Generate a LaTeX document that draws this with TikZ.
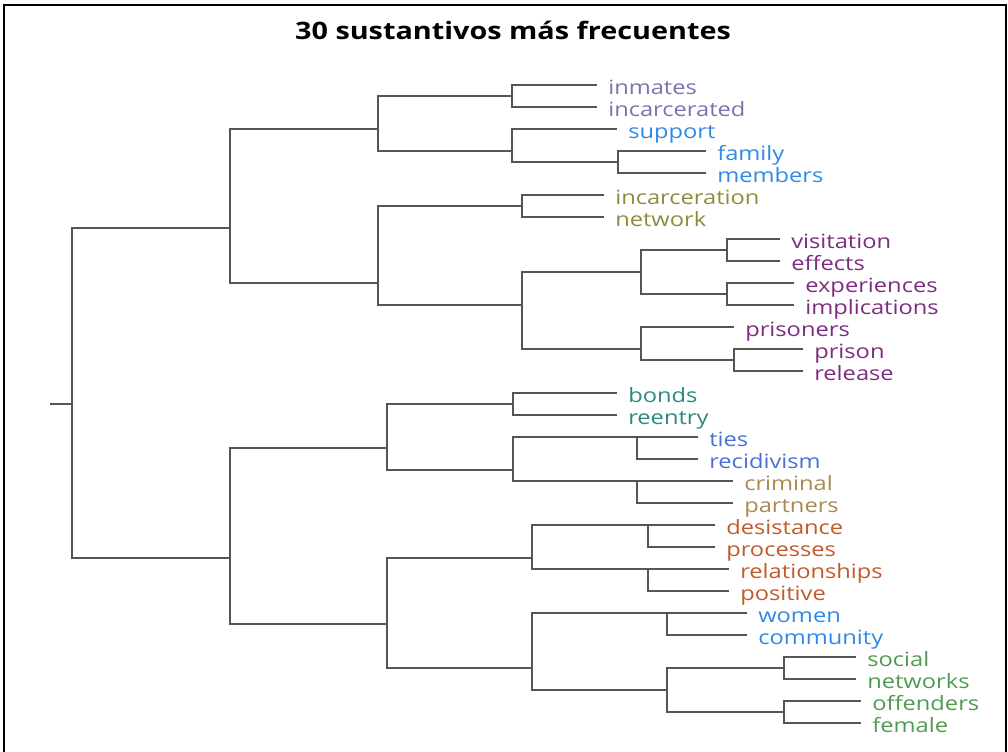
\documentclass[tikz,border=0pt]{standalone}
\usepackage{fontspec}
\usepackage{tikz}
\newfontfamily\dendrofont[FakeStretch=1.2]{Open Sans}
\definecolor{clav}{HTML}{7A74AC}
\definecolor{cblue}{HTML}{2E8AE6}
\definecolor{colive}{HTML}{8C8C3C}
\definecolor{cpurple}{HTML}{7E2C7E}
\definecolor{cteal}{HTML}{2A8A80}
\definecolor{croyal}{HTML}{4A70D8}
\definecolor{ctan}{HTML}{A88A50}
\definecolor{crust}{HTML}{C25A2A}
\definecolor{cgreen}{HTML}{4F9A50}
\definecolor{cbranch}{HTML}{555555}
\tikzset{
  branch/.style={draw=cbranch,line width=1pt},
  leaf/.style={anchor=base west,inner sep=0pt,font=\dendrofont\fontsize{14.8}{16}\selectfont,xshift=8.25pt,yshift=-7.4pt},
  frame/.style={draw=black,line width=1.5pt}
}

\begin{document}
\begin{tikzpicture}[x=0.75pt,y=-0.75pt]
  \useasboundingbox (0,0) rectangle (1008,751);
  \draw[frame] (4,760) -- (4,5) -- (1006,5) -- (1006,760);
  \node[font=\dendrofont\bfseries\fontsize{18}{20}\selectfont] (title) at (513,30) {30 sustantivos más frecuentes};

  \foreach \w/\e/\c [count=\i from 0] in {inmates/597/clav, incarcerated/597/clav, support/617/cblue,
      family/706/cblue, members/706/cblue, incarceration/604/colive, network/604/colive,
      visitation/780/cpurple, effects/780/cpurple, experiences/794/cpurple, implications/794/cpurple,
      prisoners/734/cpurple, prison/803/cpurple, release/803/cpurple, bonds/617/cteal, reentry/617/cteal,
      ties/698/croyal, recidivism/698/croyal, criminal/733/ctan, partners/733/ctan,
      desistance/715/crust, processes/715/crust, relationships/729/crust, positive/729/crust,
      women/747/cblue, community/747/cblue, social/856/cgreen, networks/856/cgreen,
      offenders/861/cgreen, female/861/cgreen}{
    \coordinate (\w) at (\e,85+22*\i);
    \node[leaf,text=\c] (t-\w) at (\w) {\w};
  }

  \coordinate (n-stub) at (50,404);
  \coordinate (n-root) at (72,404);
  \coordinate (n-top) at (230,228);
  \coordinate (n-bot) at (230,558);
  \coordinate (n-a) at (378,129);
  \coordinate (n-a1) at (512,96);
  \coordinate (n-a2) at (512,151);
  \coordinate (n-fm) at (618,162);
  \coordinate (n-b) at (378,283);
  \coordinate (n-b1) at (522,206);
  \coordinate (n-b2) at (522,305);
  \coordinate (n-b2a) at (641,272);
  \coordinate (n-ve) at (727,250);
  \coordinate (n-ei) at (727,294);
  \coordinate (n-b2b) at (641,349);
  \coordinate (n-pr) at (734,360);
  \coordinate (n-c) at (387,448);
  \coordinate (n-c1) at (513,404);
  \coordinate (n-c2) at (513,470);
  \coordinate (n-tr) at (637,437);
  \coordinate (n-cp) at (637,481);
  \coordinate (n-d) at (387,624);
  \coordinate (n-d1) at (532,558);
  \coordinate (n-dp) at (648,525);
  \coordinate (n-rp) at (648,569);
  \coordinate (n-d2) at (532,668);
  \coordinate (n-wc) at (667,613);
  \coordinate (n-sf) at (667,690);
  \coordinate (n-sn) at (784,668);
  \coordinate (n-of) at (784,712);

  \draw[branch] (n-stub) -- (n-root);
  \foreach \p/\q in {n-root/n-top, n-root/n-bot, n-top/n-a, n-top/n-b, n-a/n-a1, n-a/n-a2,
      n-a1/inmates, n-a1/incarcerated, n-a2/support, n-a2/n-fm, n-fm/family, n-fm/members,
      n-b/n-b1, n-b/n-b2, n-b1/incarceration, n-b1/network, n-b2/n-b2a, n-b2/n-b2b,
      n-b2a/n-ve, n-b2a/n-ei, n-ve/visitation, n-ve/effects, n-ei/experiences, n-ei/implications,
      n-b2b/prisoners, n-b2b/n-pr, n-pr/prison, n-pr/release,
      n-bot/n-c, n-bot/n-d, n-c/n-c1, n-c/n-c2, n-c1/bonds, n-c1/reentry, n-c2/n-tr, n-c2/n-cp,
      n-tr/ties, n-tr/recidivism, n-cp/criminal, n-cp/partners,
      n-d/n-d1, n-d/n-d2, n-d1/n-dp, n-d1/n-rp, n-dp/desistance, n-dp/processes,
      n-rp/relationships, n-rp/positive, n-d2/n-wc, n-d2/n-sf, n-wc/women, n-wc/community,
      n-sf/n-sn, n-sf/n-of, n-sn/social, n-sn/networks, n-of/offenders, n-of/female}
    \draw[branch] (\p) |- (\q);
\end{tikzpicture}
\end{document}
